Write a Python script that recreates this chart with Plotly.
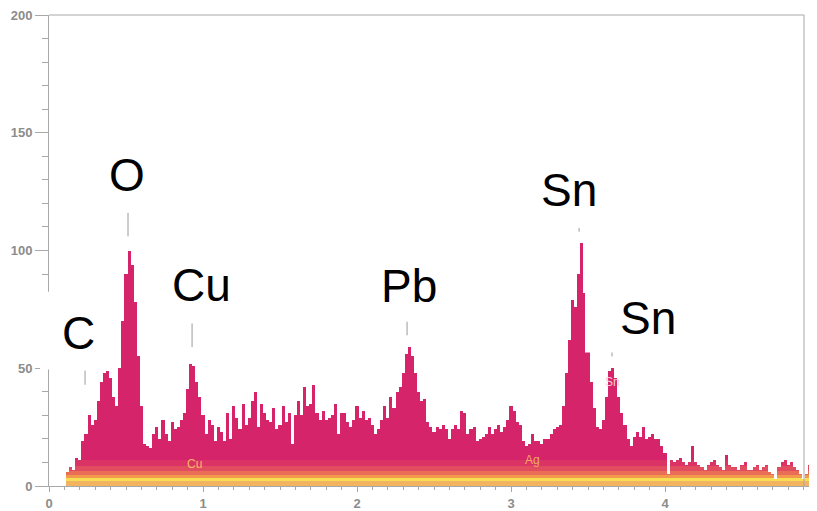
import numpy as np
import plotly.graph_objects as go

# ---------------- data ----------------
energy_start = 0.12   # keV, first channel shown
channel_width = 0.02  # keV
counts = [
    6, 8, 7, 12, 11, 19, 22, 30, 26, 28, 36, 44, 48, 49, 46, 38, 34, 50, 70, 90,
    100, 94, 78, 55, 34, 18, 17, 16, 22, 25, 20, 28, 22, 19, 27, 24, 25, 28, 31, 41,
    52, 51, 44, 38, 30, 22, 28, 26, 19, 25, 23, 19, 31, 20, 34, 29, 24, 35, 26, 29,
    36, 40, 25, 35, 31, 28, 27, 33, 24, 26, 34, 27, 31, 18, 30, 36, 30, 42, 34, 35,
    43, 31, 28, 32, 28, 29, 30, 35, 22, 31, 31, 27, 25, 28, 34, 29, 32, 28, 29, 26,
    22, 24, 28, 34, 29, 38, 33, 40, 42, 48, 56, 59, 55, 48, 40, 36, 37, 27, 25, 23,
    25, 24, 26, 24, 20, 24, 26, 24, 32, 31, 22, 24, 25, 19, 20, 21, 22, 25, 22, 24,
    26, 23, 25, 28, 34, 32, 27, 26, 19, 17, 18, 22, 19, 19, 18, 20, 20, 22, 24, 25,
    26, 34, 48, 62, 79, 76, 90, 103, 82, 58, 44, 33, 25, 24, 28, 38, 49, 50, 46, 38,
    31, 26, 20, 17, 21, 23, 21, 25, 20, 21, 22, 20, 20, 17, 14, 5, 11, 10, 11, 12,
    10, 9, 10, 17, 10, 9, 8, 7, 9, 10, 11, 9, 8, 7, 13, 9, 8, 8, 7, 9,
    10, 7, 7, 8, 9, 7, 8, 9, 6, 5, 3, 8, 10, 11, 9, 10, 8, 7, 5, 3,
    5, 9, 14, 6,
]

# element peak labels
peak_labels = ["C", "O", "Cu", "Pb", "Sn", "Sn"]
# peak marker ticks (keV, count range)
marker_kev = [0.234, 0.513, 0.929, 2.325, 3.442, 3.656]
marker_lo = [43, 106, 59, 64, 108, 55]
marker_hi = [49, 116, 69, 70, 111, 57]

# small in-spectrum labels
small_labels = ["Cu", "Ag", "Sn"]
small_kev = [0.948, 3.14, 3.66]
small_cnt = [9.3, 11, 44]

y_ticks = [0, 50, 100, 150, 200]
x_ticks = [0, 1, 2, 3, 4]

# ---------------- figure ----------------
energy = np.round(energy_start + channel_width * np.arange(len(counts)), 3)
counts_arr = np.array(counts, dtype=float)

# page body has an 8px default margin; figure is sized to fit the window
OFF = 8
W, H = 817 - OFF, 511 - OFF
ML, MR, MT, MB = 49 - OFF, 0, 14 - OFF, 24
PX_PER_KEV = 154.0
plot_w = W - ML - MR
plot_h = H - MT - MB
x_max = plot_w / PX_PER_KEV


def px_x(px):  # window pixel -> paper fraction
    return (px - OFF - ML) / plot_w


def px_y(py):
    return (OFF + MT + plot_h - py) / plot_h


fig = go.Figure()

# main magenta spectrum + bottom colour bands (overlayed, shorter on top)
layers = [
    (None, "#d6246a"),
    (11.0, "#db3366"),
    (8.5, "#e24c60"),
    (6.5, "#ea6e56"),
    (4.6, "#f29a4c"),
    (3.6, "#f8de54"),
    (2.2, "#f2b460"),
]
for cap, col in layers:
    vals = counts_arr if cap is None else np.minimum(counts_arr, cap)
    fig.add_trace(go.Bar(
        x=energy, y=vals, width=channel_width,
        marker=dict(color=col, line=dict(width=0)),
        hoverinfo="skip",
    ))

# peak marker ticks
mx, my = [], []
for k, lo, hi in zip(marker_kev, marker_lo, marker_hi):
    mx += [k, k, None]
    my += [lo, hi, None]
fig.add_trace(go.Scatter(x=mx, y=my, mode="lines",
                         line=dict(color="#9a9a9a", width=1), hoverinfo="skip"))

# frame: top and right (cursor) lines
right_px = 804
fig.add_shape(type="line", xref="paper", yref="paper", x0=0, x1=px_x(right_px),
              y0=1, y1=1, line=dict(color="#a8a8a8", width=1), layer="above")
fig.add_shape(type="line", xref="paper", yref="paper", x0=px_x(right_px), x1=px_x(right_px),
              y0=0, y1=1, line=dict(color="#a8a8a8", width=1), layer="above")

# white label boxes (window px) and big labels
boxes = [  # x0, x1, y0, y1, text centre x, y
    (40, 115, 292, 370, 78, 333),
    (88, 166, 128, 212, 127, 175),
    (137, 267, 243, 322, 201, 285),
    (343, 505, 243, 322, 409, 286),
    (510, 632, 148, 228, 569, 190),
    (585, 713, 275, 353, 648, 318),
]
for lab, (x0, x1, y0, y1, cx, cy) in zip(peak_labels, boxes):
    fig.add_shape(type="rect", xref="paper", yref="paper",
                  x0=px_x(x0), x1=px_x(x1), y0=px_y(y1), y1=px_y(y0),
                  fillcolor="#ffffff", line=dict(width=0), layer="above")
    fig.add_annotation(x=px_x(cx), y=px_y(cy), xref="paper", yref="paper",
                       text=lab, showarrow=False, xanchor="center", yanchor="middle",
                       font=dict(family="Arial, Liberation Sans, sans-serif", size=46,
                                 color="#000000"))

small_cols = ["#f6b866", "#f4a860", "#f6cdd6"]
for lab, k, c, col in zip(small_labels, small_kev, small_cnt, small_cols):
    fig.add_annotation(x=k, y=c, xref="x", yref="y", text=lab, showarrow=False,
                       font=dict(family="Arial, Liberation Sans, sans-serif", size=12, color=col))

tick_font = dict(family="Arial, Liberation Sans, sans-serif", size=13, color="#8c8c8c",
                 weight="bold")
fig.update_layout(
    width=W, height=H,
    margin=dict(l=ML, r=MR, t=MT, b=MB, pad=0),
    paper_bgcolor="#ffffff", plot_bgcolor="#ffffff",
    showlegend=False, barmode="overlay", bargap=0,
    xaxis=dict(range=[0, x_max], tickvals=x_ticks, ticktext=[str(v) for v in x_ticks],
               showline=True, linecolor="#a8a8a8", linewidth=1,
               ticks="outside", ticklen=5, tickcolor="#a8a8a8",
               tickfont=tick_font, showgrid=False, zeroline=False,
               ticklabeloverflow="allow",
               minor=dict(dtick=0.1, tick0=0, ticks="outside", ticklen=3,
                          tickcolor="#a8a8a8", showgrid=False)),
    yaxis=dict(range=[0, 200], tickvals=y_ticks, ticktext=[str(v) for v in y_ticks],
               showline=True, linecolor="#a8a8a8", linewidth=1,
               ticks="outside", ticklen=13, tickcolor="#a8a8a8",
               tickfont=tick_font, showgrid=False, zeroline=False,
               ticklabeloverflow="allow",
               minor=dict(dtick=10, tick0=0, ticks="outside", ticklen=6,
                          tickcolor="#a8a8a8", showgrid=False)),
)

fig.write_html("out.html")
